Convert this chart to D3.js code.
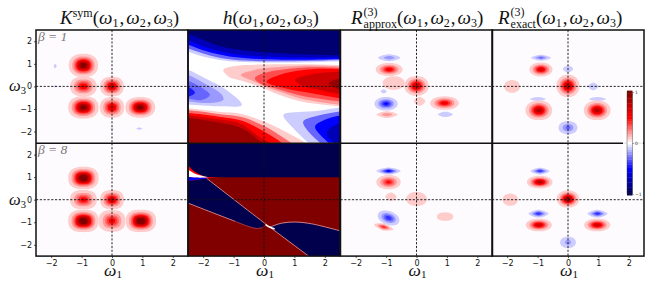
<!DOCTYPE html>
<html>
<head>
<meta charset="utf-8">
<script src="https://cdnjs.cloudflare.com/ajax/libs/d3/7.8.5/d3.min.js"></script>
<style>
  body { margin: 0; background: white; }
  svg { display: block; }
  text { font-family: "DejaVu Sans", sans-serif; }
  .math { font-family: "Liberation Serif", serif; fill: #111; }
</style>
</head>
<body>
<div id="chart"></div>
<script>
// blobs are [omega1, omega3, peak, half width, half height, tilt in degrees]
const kBeta1 = [
  [-0.94, 0.93, 1.1, 0.48, 0.52], [-0.94, 0, 0.6, 0.44, 0.44], [0, 0, 0.75, 0.39, 0.44],
  [-0.94, -0.93, 1.1, 0.5, 0.5], [0, -0.93, 0.7, 0.4, 0.46], [0.93, -0.93, 1.1, 0.49, 0.46],
  [-1.87, 0.9, -0.1, 0.05, 0.1], [-1.87, 0, -0.1, 0.05, 0.05], [0, -1.87, -0.1, 0.04, 0.05], [0.9, -1.87, -0.1, 0.1, 0.05]
];
const kBeta8 = [
  [-0.94, 0.96, 1.3, 0.5, 0.5], [-0.94, 0, 0.55, 0.44, 0.43], [0, 0, 0.7, 0.39, 0.43],
  [-0.94, -0.94, 1.3, 0.5, 0.5], [0, -0.94, 0.55, 0.44, 0.48], [0.95, -0.94, 1.3, 0.5, 0.5]
];
const approxBeta1 = [
  [-0.9, 1.27, -0.25, 0.37, 0.16], [-0.9, 0.75, 0.6, 0.44, 0.29], [-0.75, 0.15, 0.15, 0.36, 0.3],
  [0, 0.02, 0.8, 0.4, 0.44], [-1.08, -0.22, -0.1, 0.1, 0.09], [0.1, -0.66, 0.12, 0.19, 0.2],
  [-1, -0.77, -0.5, 0.38, 0.3], [-0.97, -1.25, 0.25, 0.35, 0.15], [0.92, -0.74, 0.6, 0.47, 0.3],
  [0.95, -1.24, -0.12, 0.25, 0.12]
];
const approxBeta8 = [
  [-0.92, 1.27, -0.55, 0.4, 0.16], [-0.92, 0.78, 0.5, 0.4, 0.32], [-0.84, 0.13, 0.1, 0.19, 0.19],
  [0, 0.03, 0.12, 0.34, 0.31], [0.94, -0.75, 0.1, 0.27, 0.19],
  [-0.92, -0.81, -0.45, 0.37, 0.3, 20], [-1.08, -1.21, 0.45, 0.33, 0.16, 15]
];
const exactBeta1 = [
  [-0.89, 1.27, -0.3, 0.33, 0.13], [-0.89, 0.75, 0.7, 0.38, 0.31], [0, 0.02, 0.85, 0.38, 0.5],
  [0, 0.77, -0.14, 0.17, 0.16], [0.83, 0, -0.14, 0.17, 0.17], [-1.84, 0, 0.1, 0.26, 0.28],
  [-0.99, -0.56, -0.15, 0.26, 0.09], [0.97, -0.56, -0.15, 0.28, 0.09], [-0.96, -1.06, 0.85, 0.44, 0.44],
  [0.96, -1.06, 0.85, 0.44, 0.44], [0, -1.83, -0.3, 0.31, 0.29]
];
const exactBeta8 = [
  [-0.92, 1.27, -0.45, 0.32, 0.15], [-0.93, 0.78, 0.85, 0.42, 0.28], [-1.9, 0, 0.1, 0.25, 0.27],
  [0, 0.03, 1, 0.37, 0.38], [-0.97, -0.62, -0.45, 0.33, 0.18], [0.97, -0.62, -0.45, 0.33, 0.18],
  [-0.96, -1.12, 0.75, 0.43, 0.28], [0.96, -1.12, 0.75, 0.43, 0.28], [0, -1.89, -0.2, 0.26, 0.25]
];

// h at beta = 1: filled contour outlines as [level, points], painted in this order
const hBeta1Bands = [
  [-0.1, [[-3, 1.7], [-2.5, 1.54], [-2, 1.32], [-1.5, 1.18], [-1, 1.1], [0, 1.06], [1, 1.06], [2.5, 1.12], [3, 1.14], [3, 3], [-3, 3]]],
  [-0.3, [[-3, 1.85], [-2.5, 1.68], [-2, 1.46], [-1.5, 1.28], [-1, 1.18], [0, 1.12], [1, 1.12], [2.5, 1.17], [3, 1.2], [3, 3], [-3, 3]]],
  [-0.5, [[-3, 2], [-2.5, 1.85], [-2, 1.6], [-1.5, 1.42], [-1, 1.3], [0, 1.2], [1, 1.18], [2.5, 1.22], [3, 1.24], [3, 3], [-3, 3]]],
  [-0.7, [[-3, 2.3], [-2.5, 2.06], [-2, 1.78], [-1.5, 1.58], [-1, 1.44], [0, 1.32], [1, 1.28], [2.5, 1.28], [3, 1.3], [3, 3], [-3, 3]]],
  [-0.9, [[-3, 2.6], [-2.5, 2.35], [-2, 2.06], [-1.5, 1.81], [-1, 1.66], [0, 1.51], [1, 1.44], [2.5, 1.38], [3, 1.38], [3, 3], [-3, 3]]],
  [0.1, [[-3, -0.93], [-2.5, -0.97], [-1.5, -1.12], [-0.73, -1.22], [0, -1.56], [0.69, -2], [1.35, -2.5], [1.8, -3], [-3, -3]]],
  [0.3, [[-3, -1.04], [-2.5, -1.06], [-1.5, -1.22], [-0.73, -1.36], [0, -1.76], [0.5, -2.15], [1, -2.6], [1.4, -3], [-3, -3]]],
  [0.5, [[-3, -1.15], [-2.5, -1.18], [-1.5, -1.34], [-0.73, -1.52], [0, -2], [0.58, -2.5], [1, -3], [-3, -3]]],
  [0.7, [[-3, -1.25], [-2.5, -1.29], [-1.5, -1.46], [-0.73, -1.68], [-0.2, -2.2], [0.3, -2.6], [0.6, -3], [-3, -3]]],
  [0.9, [[-3, -1.36], [-2.5, -1.4], [-1.5, -1.6], [-0.73, -1.86], [-0.08, -2.5], [0.3, -3], [-3, -3]]],
  [0.1, [[-1.34, 0.73], [-0.95, 0.9], [0, 0.97], [1.24, 0.98], [2.5, 0.95], [3, 0.95], [3, -1], [2.5, -0.89], [1.24, -0.67], [0.36, -0.3], [0, -0.08], [-0.63, 0.21], [-1.17, 0.44]]],
  [0.2, [[-0.76, 0.51], [-0.41, 0.69], [0, 0.8], [1.24, 0.92], [2.5, 0.89], [3, 0.89], [3, -0.9], [2.5, -0.82], [1.24, -0.55], [0.47, -0.22], [0, 0.02], [-0.4, 0.26]]],
  [0.35, [[-0.3, 0.36], [0.03, 0.6], [1.24, 0.83], [2.5, 0.83], [3, 0.83], [3, -0.75], [2.5, -0.67], [1.24, -0.41], [0.36, -0.08], [-0.08, 0.1]]],
  [0.5, [[0.09, 0.21], [0.58, 0.54], [1.57, 0.76], [2.5, 0.77], [3, 0.77], [3, -0.6], [2.5, -0.52], [1.57, -0.3], [0.69, -0.08]]],
  [0.7, [[1.02, 0.29], [1.57, 0.54], [2.5, 0.66], [3, 0.7], [3, -0.45], [2.5, -0.35], [1.79, -0.15], [1.24, 0.04]]],
  [0.9, [[2.12, 0.14], [2.5, 0.36], [3, 0.5], [3, -0.3], [2.5, -0.15]]],
  [-0.1, [[-3, 0.95], [-2.5, 0.74], [-1.94, 0.36], [-1.28, -0.12], [-0.73, -0.82], [-1.5, -0.88], [-2.5, -0.8], [-3, -0.75]]],
  [-0.2, [[-3, 0.75], [-2.5, 0.52], [-1.94, 0.12], [-1.39, -0.36], [-1.34, -0.6], [-1.94, -0.74], [-2.5, -0.66], [-3, -0.6]]],
  [-0.3, [[-3, 0.5], [-2.5, 0.26], [-2.05, -0.06], [-1.78, -0.38], [-2.05, -0.6], [-2.5, -0.54], [-3, -0.5]]],
  [-0.45, [[-3, 0.2], [-2.5, -0.02], [-2.27, -0.28], [-2.5, -0.47], [-3, -0.6]]],
  [-0.1, [[0.64, -1.26], [1.13, -1.14], [1.79, -1.08], [2.5, -0.94], [3, -0.9], [3, -3], [1.9, -3], [1.46, -2.5], [0.91, -1.78]]],
  [-0.3, [[1.29, -1.56], [1.79, -1.29], [2.5, -1.11], [3, -1.05], [3, -3], [2.2, -3], [1.84, -2.5], [1.46, -2]]],
  [-0.5, [[1.68, -1.78], [2, -1.48], [2.5, -1.29], [3, -1.2], [3, -3], [2.5, -3], [2.12, -2.5]]],
  [-0.7, [[2.06, -2.07], [2.23, -1.78], [2.5, -1.63], [3, -1.5], [3, -3], [2.6, -3], [2.28, -2.5]]]
];

// h at beta = 8: saturated regions with thin edges
const hBeta8Top = [[-3, 1], [3, 1], [3, 3], [-3, 3]];
const hBeta8Left = [[-3, 0.85], [-2.5, 0.81], [-1.89, 0.94], [0, -1.02], [-0.02, -1.23], [-0.24, -1.27], [-0.52, -1.18], [-0.95, -0.96], [-1.72, -0.56], [-2.5, -0.15], [-3, 0.05]];
const hBeta8Right = [[0.2, -1.21], [0.58, -1.04], [1.02, -0.99], [1.57, -1.07], [2.5, -1.38], [3, -1.55], [3, -3], [1.95, -3], [1.46, -2.49]];
const hBeta8Flare = [
  [0.5, [[-3, 1.9], [-2.5, 1.51], [-2.27, 1.24], [-1.89, 1.01], [-1.4, 1.01], [-1.89, 0.95], [-2.27, 0.9], [-2.5, 0.9], [-3, 0.9]]],
  [0, [[-3, 1.35], [-2.5, 1.32], [-2.25, 1.14], [-1.85, 0.99], [-2.25, 0.97], [-2.5, 1], [-3, 1]]],
  [-0.5, [[-3, 1.02], [-2.5, 1.02], [-2.25, 0.98], [-1.85, 0.96], [-2.25, 0.87], [-2.5, 0.83], [-3, 0.85]]]
];
const hBeta8Edges = [
  [[-1.89, 0.95], [0, -1.02], [1.46, -2.49]],
  [[-2.5, -0.15], [-1.72, -0.56], [-0.95, -0.96]],
  [[0.2, -1.21], [0.58, -1.04], [1.02, -0.99], [1.57, -1.07], [2.5, -1.38]]
];
const hBeta8Faint = [[-0.95, -0.96], [-0.52, -1.18], [-0.24, -1.27], [-0.02, -1.23]];
const hBeta8Cross = [[0.05, -1.1], [0.2, -1.22], [0.35, -1.3]];

const ticks = [-2, -1, 0, 1, 2];
const barTicks = [1, 0, -1];
const barLevels = d3.range(-20, 21).map(d => d / 20);

const width = 664, height = 285;
const colLeft = [36, 188, 340.5, 492];
const colWidth = 152;
const rowTop = [30, 143.3];
const rowHeight = 112.8;

const seismic = d3.scaleLinear()
  .domain([-1, -0.5, 0, 0.5, 1])
  .range(["#00004d", "#0000ff", "#ffffff", "#ff0000", "#800000"]);
const paper = "#fefbfe";

const svg = d3.select("#chart").append("svg").attr("width", width).attr("height", height);
const defs = svg.append("defs");

// outline of one contour ring of a blob, in data units
const ringPoints = (blob, level, power) => {
  const [cx, cy, peak, rx, ry, tilt] = blob;
  const p = Math.abs(peak);
  const r = Math.pow(Math.log(p / (level - 0.05)) / Math.log(p / 0.05), 0.6);
  const rad = (tilt || 0) * Math.PI / 180;
  const sx = 30.4, sy = 22.6; // tilt is seen on screen, not in data units
  return d3.range(0, 2 * Math.PI, Math.PI / 20).map(a => {
    const c = Math.cos(a), s = Math.sin(a);
    const px = Math.sign(c) * Math.pow(Math.abs(c), 2 / power) * rx * r;
    const py = Math.sign(s) * Math.pow(Math.abs(s), 2 / power) * ry * r;
    const qx = px * sx, qy = py * sy;
    return [cx + (qx * Math.cos(rad) + qy * Math.sin(rad)) / sx,
            cy + (qy * Math.cos(rad) - qx * Math.sin(rad)) / sy];
  });
};

const drawBlobs = (g, line, blobs, basePower) => {
  // rings of all blobs sorted, so a pale ring never covers a neighbour's core
  const rings = [];
  blobs.forEach(blob => {
    const peak = Math.abs(blob[2]);
    const sign = Math.sign(blob[2]);
    const flat = blob[4] / blob[3] < 0.55 || blob[3] < 0.2;
    const power = flat ? 1.45 : basePower;
    for (let v = 0.1; v - 0.05 < peak && v < 1.01; v += 0.1) {
      rings.push({ blob, v, sign, power });
    }
  });
  rings.sort((a, b) => a.v - b.v).forEach(d => {
    g.append("path")
      .attr("d", line(ringPoints(d.blob, d.v, d.power)))
      .attr("fill", seismic(d.sign * d.v));
  });
};

const drawPanel = (col, row, fill) => {
  const x = d3.scaleLinear().domain([-2.5, 2.5]).range([colLeft[col], colLeft[col] + colWidth]);
  const y = d3.scaleLinear().domain([-2.5, 2.5]).range([rowTop[row] + rowHeight, rowTop[row]]);
  const id = `clip${col}${row}`;
  defs.append("clipPath").attr("id", id).append("rect")
    .attr("x", x.range()[0]).attr("y", y.range()[1])
    .attr("width", colWidth).attr("height", rowHeight);
  const g = svg.append("g").attr("clip-path", `url(#${id})`);
  g.append("rect")
    .attr("x", x.range()[0]).attr("y", y.range()[1])
    .attr("width", colWidth).attr("height", rowHeight)
    .attr("fill", fill);
  const smooth = d3.line().x(d => x(d[0])).y(d => y(d[1])).curve(d3.curveCatmullRomClosed.alpha(0.5));
  const straight = d3.line().x(d => x(d[0])).y(d => y(d[1]));
  const open = d3.line().x(d => x(d[0])).y(d => y(d[1])).curve(d3.curveCatmullRom);
  return { x, y, g, smooth, straight, open };
};

const drawGuides = p => {
  p.g.append("line").attr("x1", p.x(0)).attr("x2", p.x(0)).attr("y1", p.y.range()[1]).attr("y2", p.y.range()[0])
    .attr("stroke", "#111").attr("stroke-width", 0.9).attr("stroke-dasharray", "2.2,1.6");
  p.g.append("line").attr("x1", p.x.range()[0]).attr("x2", p.x.range()[1]).attr("y1", p.y(0)).attr("y2", p.y(0))
    .attr("stroke", "#111").attr("stroke-width", 0.9).attr("stroke-dasharray", "2.2,1.6");
};

const blobPanels = [
  [0, 0, kBeta1, 2.3], [0, 1, kBeta8, 2.5],
  [2, 0, approxBeta1, 2.1], [2, 1, approxBeta8, 2.1],
  [3, 0, exactBeta1, 2.1], [3, 1, exactBeta8, 2.1]
];
const panels = {};
blobPanels.forEach(([col, row, blobs, power]) => {
  const p = drawPanel(col, row, paper);
  drawBlobs(p.g, p.smooth, blobs, power);
  panels[`${col}${row}`] = p;
});

// h, beta = 1
const hTop = drawPanel(1, 0, "#ffffff");
hBeta1Bands.forEach(([level, points]) => {
  hTop.g.append("path").attr("d", hTop.smooth(points)).attr("fill", seismic(level));
});
panels["10"] = hTop;

// h, beta = 8
const hLow = drawPanel(1, 1, "#800000");
[hBeta8Top, hBeta8Left, hBeta8Right].forEach(points => {
  hLow.g.append("path").attr("d", hLow.straight(points) + "Z").attr("fill", "#00004d");
});
hBeta8Edges.forEach(points => {
  hLow.g.append("path").attr("d", hLow.open(points))
    .attr("fill", "none").attr("stroke", "#ffb4b4").attr("stroke-width", 0.7);
});
hLow.g.append("path").attr("d", hLow.open(hBeta8Faint))
  .attr("fill", "none").attr("stroke", "#c06070").attr("stroke-width", 0.6);
hLow.g.append("path").attr("d", hLow.open(hBeta8Cross))
  .attr("fill", "none").attr("stroke", "#fff").attr("stroke-width", 1.5);
hBeta8Flare.forEach(([level, points]) => {
  hLow.g.append("path").attr("d", hLow.smooth(points)).attr("fill", seismic(level));
});
panels["11"] = hLow;

Object.values(panels).forEach(drawGuides);

// axes and frames
const tickStyle = sel => {
  sel.select(".domain").remove();
  sel.selectAll("line").attr("stroke", "#111").attr("stroke-width", 0.7);
  sel.selectAll("text").attr("font-size", 8).attr("fill", "#111");
};
[0, 1, 2, 3].forEach(col => {
  svg.append("g")
    .attr("transform", `translate(0,${rowTop[1] + rowHeight})`)
    .call(d3.axisBottom(panels[`${col}1`].x).tickValues(ticks).tickFormat(d3.format("d")).tickSize(2).tickPadding(2))
    .call(tickStyle);
  svg.append("text").attr("class", "math")
    .attr("x", panels[`${col}1`].x(0) + 1).attr("y", 276).attr("text-anchor", "middle")
    .attr("font-size", 17.5).attr("font-style", "italic")
    .text("ω").append("tspan").attr("dy", 2).attr("font-size", 11).attr("font-style", "normal").text("1");
});
[0, 1].forEach(row => {
  svg.append("g")
    .attr("transform", `translate(${colLeft[0]},0)`)
    .call(d3.axisLeft(panels[`0${row}`].y).tickValues(ticks).tickFormat(d3.format("d")).tickSize(2).tickPadding(2))
    .call(tickStyle);
  svg.append("text").attr("class", "math")
    .attr("x", 9).attr("y", panels[`0${row}`].y(0) + 5)
    .attr("font-size", 16.5).attr("font-style", "italic")
    .text("ω").append("tspan").attr("dy", 3).attr("font-size", 10.5).attr("font-style", "normal").text("3");
  svg.append("text").attr("class", "math")
    .attr("x", 38).attr("y", rowTop[row] + 11)
    .attr("font-size", 13.5).attr("font-style", "italic").style("fill", "#777")
    .text(row === 0 ? "β = 1" : "β = 8");
});

// panel frames
colLeft.forEach(left => {
  svg.append("rect").attr("x", left).attr("y", rowTop[0])
    .attr("width", colWidth).attr("height", rowHeight * 2 + 0.5)
    .attr("fill", "none").attr("stroke", "#111").attr("stroke-width", 1.5);
});
svg.append("line").attr("x1", colLeft[0]).attr("x2", colLeft[3] + colWidth)
  .attr("y1", rowTop[1]).attr("y2", rowTop[1])
  .attr("stroke", "#111").attr("stroke-width", 1.5);

// colorbar
const barY = d3.scaleLinear().domain([-1, 1]).range([194, 92]);
const barX = 627, barW = 5.5;
svg.append("rect").attr("x", 623).attr("y", 88).attr("width", 20).attr("height", 110)
  .attr("fill", "white").attr("fill-opacity", 0.92);
svg.append("g").selectAll("rect").data(barLevels).enter().append("rect")
  .attr("x", barX).attr("width", barW)
  .attr("y", d => barY(d) - 1.4).attr("height", 2.9)
  .attr("fill", d => seismic(d));
svg.append("rect").attr("x", barX).attr("y", 92).attr("width", barW).attr("height", 102)
  .attr("fill", "none").attr("stroke", "#333").attr("stroke-width", 0.4);
svg.append("g")
  .attr("transform", `translate(${barX + barW},0)`)
  .call(d3.axisRight(barY).tickValues(barTicks).tickSize(1.5).tickPadding(1).tickFormat(d3.format("d")))
  .call(sel => {
    sel.select(".domain").remove();
    sel.selectAll("line").attr("stroke", "#333").attr("stroke-width", 0.4);
    sel.selectAll("text").attr("font-size", 4.5).attr("fill", "#333");
  });

// titles, runs are [text, size, baseline shift, italic, dx]
const addTitle = (x, runs) => {
  const t = svg.append("text").attr("class", "math").attr("x", x).attr("y", 24);
  let shift = 0;
  runs.forEach(([txt, size, base, italic, dx]) => {
    t.append("tspan").text(txt)
      .attr("font-size", size)
      .attr("font-style", italic ? "italic" : "normal")
      .attr("dy", base - shift)
      .attr("dx", dx || 0);
    shift = base;
  });
};
const args = [
  ["(", 19, 0, false], ["ω", 19, 0, true], ["1", 12, 3, false], [",", 19, 0, false, 1],
  ["ω", 19, 0, true, 2], ["2", 12, 3, false], [",", 19, 0, false, 1],
  ["ω", 19, 0, true, 2], ["3", 12, 3, false], [")", 19, 0, false]
];
addTitle(60, [["K", 19, 0, true], ["sym", 12, -7, false]].concat(args));
addTitle(223, [["h", 19, 0, true]].concat(args));
addTitle(351, [["R", 19, 0, true], ["(3)", 12, -8, false, 1], ["approx", 12, 4, false, -14]].concat(args));
addTitle(498, [["R", 19, 0, true], ["(3)", 12, -8, false, 1], ["exact", 12, 4, false, -14]].concat(args));
</script>
</body>
</html>
